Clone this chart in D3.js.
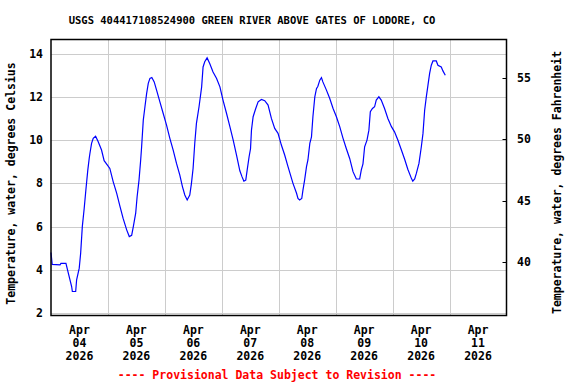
<!DOCTYPE html>
<html>
<head>
<meta charset="utf-8">
<script src="https://cdn.jsdelivr.net/npm/d3@7"></script>
<style>
  body { margin: 0; background: white; }
  text { font-family: "DejaVu Sans Mono", monospace; font-weight: bold; }
</style>
</head>
<body>
<div id="graphDiv"></div>
<script>
// hours since 2026-04-04 00:00 (MDT) and water temperature, deg C
var hours = [0, 0.5, 3.8, 4.2, 6.3, 7.3, 8.7, 9.0, 10.4, 10.8, 11.9, 12.5, 13.2, 14.0, 14.7, 15.5, 16.1, 16.4, 17.1, 17.8,
  18.8, 19.9, 21.3, 22.4, 24.8, 26.2, 27.7, 29.1, 30.4, 31.9, 33.0, 34.0, 34.7, 35.7, 36.3, 37.1, 37.8, 38.2, 38.9, 39.6,
  40.3, 41.0, 41.7, 42.5, 43.5, 44.5, 45.9, 47.3, 48.7, 50.1, 51.5, 52.9, 54.3, 55.4, 56.4, 57.4, 58.5, 59.2, 59.9, 60.6,
  61.3, 62.4, 63.5, 64.1, 64.8, 65.8, 66.9, 68.3, 69.8, 71.2, 72.5, 74.0, 75.4, 76.8, 78.2, 79.6, 80.5, 81.3, 82.1, 82.7,
  83.5, 84.1, 84.5, 85.2, 86.3, 87.3, 88.7, 90.1, 91.5, 92.9, 94.3, 95.7, 97.1, 98.5, 99.9, 102.0, 103.5, 104.1, 104.8, 105.7,
  106.2, 106.9, 107.7, 108.3, 109.1, 109.8, 110.4, 111.2, 111.9, 112.5, 113.3, 114.0, 114.6, 116.1, 117.5, 118.9, 120.3, 121.7, 123.1, 124.5,
  125.9, 127.3, 128.7, 130.1, 130.8, 131.5, 132.2, 133.2, 134.0, 134.6, 135.5, 136.4, 137.1, 138.2, 139.2, 140.6, 142.0, 143.5, 144.8, 146.2,
  147.7, 149.1, 150.4, 151.9, 152.5, 153.3, 154.0, 155.1, 156.1, 156.8, 157.5, 158.2, 158.9, 159.6, 160.3, 161.0, 162.4, 163.1, 164.5, 165.2,
  166.2];
var temps = [4.8, 4.25, 4.23, 4.3, 4.3, 3.85, 3.23, 3.0, 3.0, 3.54, 4.08, 4.77, 6.0, 6.85, 7.69, 8.6, 9.15, 9.38, 9.85, 10.08,
  10.18, 9.92, 9.54, 9.05, 8.69, 8.08, 7.54, 6.92, 6.38, 5.85, 5.54, 5.6, 6.0, 6.62, 7.38, 8.15, 9.08, 9.69, 10.92, 11.54,
  12.15, 12.62, 12.85, 12.89, 12.69, 12.31, 11.77, 11.23, 10.69, 10.08, 9.54, 8.92, 8.38, 7.85, 7.46, 7.23, 7.46, 8.0, 8.7, 9.85,
  10.77, 11.54, 12.46, 13.38, 13.62, 13.8, 13.54, 13.15, 12.85, 12.46, 11.85, 11.23, 10.62, 10.0, 9.3, 8.58, 8.31, 8.1, 8.15, 8.62,
  9.23, 9.6, 10.46, 11.08, 11.46, 11.77, 11.88, 11.82, 11.62, 11.0, 10.54, 10.31, 9.77, 9.31, 8.77, 8.0, 7.54, 7.3, 7.23, 7.3,
  7.69, 8.15, 8.77, 9.08, 9.85, 10.15, 11.08, 12.0, 12.38, 12.49, 12.77, 12.89, 12.69, 12.31, 11.92, 11.46, 11.08, 10.62, 10.08, 9.6,
  9.15, 8.54, 8.2, 8.2, 8.62, 8.9, 9.69, 10.0, 10.46, 11.31, 11.46, 11.54, 11.85, 12.0, 11.85, 11.46, 11.0, 10.62, 10.38, 10.0,
  9.54, 9.1, 8.65, 8.23, 8.1, 8.2, 8.46, 8.92, 9.69, 10.31, 11.38, 12.0, 12.54, 13.08, 13.46, 13.66, 13.66, 13.46, 13.38, 13.2,
  13.0];

var celsiusTicks = [2, 4, 6, 8, 10, 12, 14];
var fahrenheitTicks = [40, 45, 50, 55];
var dayLabels = ["04", "05", "06", "07", "08", "09", "10", "11"];
var monthLabel = "Apr", yearLabel = "2026";
var title = "USGS 404417108524900 GREEN RIVER ABOVE GATES OF LODORE, CO";

var width = 576, height = 384;
var plotL = 51, plotR = 506.5, plotT = 39.5, plotB = 315.5;

var start = new Date(2026, 3, 4);
var end = new Date(2026, 3, 12);

var x = d3.scaleTime().domain([start, end]).range([plotL, plotR]);
var y = d3.scaleLinear().domain([1.89, 14.65]).range([plotB, plotT]);
// right axis (fahrenheit) - the original's spacing is a touch wider than a strict conversion
var yF = d3.scaleLinear().domain([35.68, 58.1]).range([plotB, plotT]);

var data = hours.map(function(h, i) {
  return {t: new Date(start.getTime() + h * 3600 * 1000), v: temps[i]};
});

var svg = d3.select("#graphDiv").append("svg")
  .attr("width", width)
  .attr("height", height);

// grid
var days = d3.timeDay.range(d3.timeDay.offset(start, 1), end);
svg.append("g").selectAll("line").data(days).join("line")
  .attr("x1", d => Math.round(x(d)) + 0.5).attr("x2", d => Math.round(x(d)) + 0.5)
  .attr("y1", plotT).attr("y2", plotB)
  .attr("stroke", "#cccccc");
svg.append("g").selectAll("line").data(celsiusTicks).join("line")
  .attr("x1", plotL).attr("x2", plotR)
  .attr("y1", d => Math.round(y(d)) + 0.5).attr("y2", d => Math.round(y(d)) + 0.5)
  .attr("stroke", "#cccccc");

// data line
var line = d3.line()
  .x(d => x(d.t))
  .y(d => y(d.v));
svg.append("path")
  .datum(data)
  .attr("d", line)
  .attr("fill", "none")
  .attr("stroke", "#0000ff")
  .attr("stroke-width", 1.2);

// frame
svg.append("rect")
  .attr("x", plotL).attr("y", plotT)
  .attr("width", plotR - plotL).attr("height", plotB - plotT)
  .attr("fill", "none")
  .attr("stroke", "black")
  .attr("stroke-width", 1.5);

// left axis labels
svg.append("g").selectAll("text").data(celsiusTicks).join("text")
  .attr("x", 43).attr("y", d => y(d) + 4)
  .attr("text-anchor", "end")
  .attr("font-size", "11.5px")
  .text(d => d);

// right axis: inward ticks + labels
var rAxis = svg.append("g");
rAxis.selectAll("line").data(fahrenheitTicks).join("line")
  .attr("x1", plotR - 4).attr("x2", plotR)
  .attr("y1", d => Math.round(yF(d)) + 0.5).attr("y2", d => Math.round(yF(d)) + 0.5)
  .attr("stroke", "black");
rAxis.selectAll("text").data(fahrenheitTicks).join("text")
  .attr("x", 517).attr("y", d => yF(d) + 4)
  .attr("font-size", "11.5px")
  .text(d => d);

// day labels centred at noon
var noons = dayLabels.map((d, i) => d3.timeHour.offset(d3.timeDay.offset(start, i), 12));
var lab = svg.append("g").selectAll("text").data(noons).join("text")
  .attr("x", d => x(d))
  .attr("text-anchor", "middle")
  .attr("font-size", "11.5px");
lab.append("tspan").attr("x", d => x(d)).attr("y", 334).text(monthLabel);
lab.append("tspan").attr("x", d => x(d)).attr("y", 347).text((d, i) => dayLabels[i]);
lab.append("tspan").attr("x", d => x(d)).attr("y", 360).text(yearLabel);

// titles
svg.append("text")
  .attr("x", 252).attr("y", 24)
  .attr("text-anchor", "middle")
  .attr("font-size", "10.5px")
  .text(title);

svg.append("text")
  .attr("transform", "translate(15," + ((plotT + plotB) / 2 + 6) + ") rotate(-90)")
  .attr("text-anchor", "middle")
  .attr("font-size", "11.5px")
  .text("Temperature, water, degrees Celsius");

svg.append("text")
  .attr("transform", "translate(561," + ((plotT + plotB) / 2 + 5) + ") rotate(-90)")
  .attr("text-anchor", "middle")
  .attr("font-size", "11.5px")
  .text("Temperature, water, degrees Fahrenheit");

svg.append("text")
  .attr("x", 277).attr("y", 379)
  .attr("text-anchor", "middle")
  .attr("font-size", "11.5px")
  .attr("fill", "red")
  .text("---- Provisional Data Subject to Revision ----");
</script>
</body>
</html>
